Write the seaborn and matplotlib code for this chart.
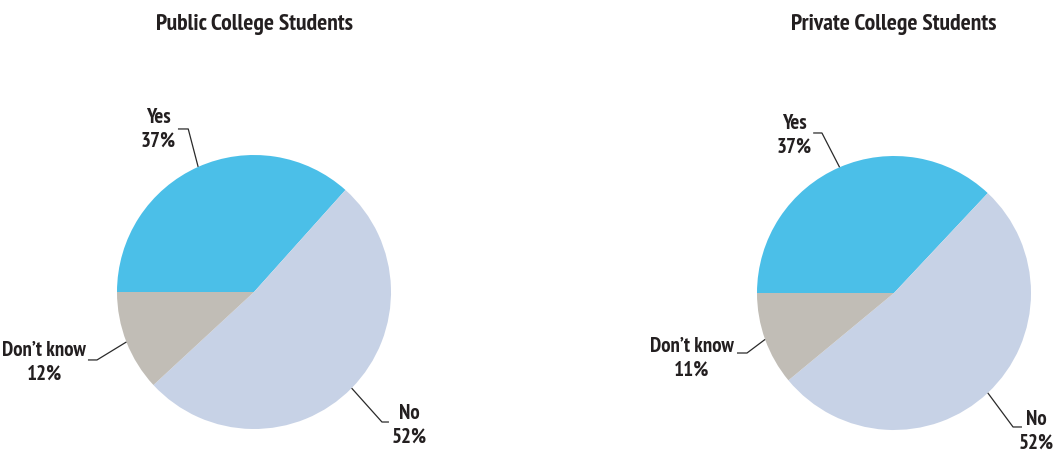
import numpy as np
import matplotlib
matplotlib.use("Agg")
import matplotlib.pyplot as plt
from matplotlib import font_manager
import seaborn as sns

# Survey responses by type of college
categories = ["Yes", "No", "Don\u2019t know"]
public_values = [37, 52, 12]
private_values = [37, 52, 11]
titles = ["Public College Students", "Private College Students"]
colors = ["#4BBFE8", "#C7D2E6", "#C1BDB6"]

sns.set_theme(style="white")
plt.rcParams["font.family"] = ["DejaVu Sans"]


def condensed_bold_fonts():
    """Installed condensed/narrow bold faces, narrowest families first."""
    found = []
    for f in font_manager.fontManager.ttflist:
        name = f.name.lower()
        fn = f.fname.lower()
        narrow = ("narrow" in name or "condensed" in name or "condensed" in fn
                  or "narrow" in fn or f.stretch in ("condensed", "semi-condensed",
                                                     "extra-condensed", "ultra-condensed"))
        bold = f.weight in ("bold", 700, "semibold", 600) or "bold" in fn
        if narrow and bold and "oblique" not in fn and "italic" not in fn:
            rank = 0 if "narrow" in fn or "narrow" in name else 1
            found.append((rank, f.fname))
    return [p for _, p in sorted(found)]


cands = condensed_bold_fonts()
if cands:
    FONT = font_manager.FontProperties(fname=cands[0])
    is_narrow = "narrow" in cands[0].lower()
else:
    FONT = font_manager.FontProperties(family="DejaVu Sans", weight="bold")
    is_narrow = False

if is_narrow:
    label_size, title_size = 15, 17
elif cands:
    label_size, title_size = 13, 15
else:
    label_size, title_size = 11.5, 13

W, H = 1056, 451
fig = plt.figure(figsize=(W / 100, H / 100), dpi=100)
fig.patch.set_facecolor("white")

# pie centres and radius in pixels
centers = [(254, 292), (894, 293)]
radius = 137

# label layout per pie, in pie-radius units:
# (text anchor x, text y, horizontal alignment, elbow x, elbow y, stub end x)
label_layout = [
    {
        "Yes": (-0.569, 1.19, "right", -0.48, 1.19, -0.555),
        "No": (1.007, -0.971, "left", 0.934, -0.949, 0.985),
        "Don\u2019t know": (-1.226, -0.511, "right", -1.146, -0.496, -1.212),
    },
    {
        "Yes": (-0.599, 1.153, "right", -0.526, 1.168, -0.59),
        "No": (1.168, -1.007, "right", 0.869, -0.978, 0.934),
        "Don\u2019t know": (-1.168, -0.474, "right", -1.073, -0.438, -1.146),
    },
]

for (cx, cy), values, title, layout in zip(centers, [public_values, private_values], titles, label_layout):
    ax = fig.add_axes([(cx - radius) / W, (H - cy - radius) / H, 2 * radius / W, 2 * radius / H])
    wedges, _ = ax.pie(values, colors=colors, startangle=180, counterclock=False,
                       radius=1, wedgeprops=dict(linewidth=0))
    ax.set_xlim(-1, 1)
    ax.set_ylim(-1, 1)
    ax.set_aspect("equal")
    ax.axis("off")

    for w, cat, val in zip(wedges, categories, values):
        theta = np.deg2rad((w.theta1 + w.theta2) / 2)
        ex, ey = np.cos(theta), np.sin(theta)
        tx, ty, ha, bx, by, sx = layout[cat]
        ax.plot([ex, bx, sx], [ey, by, by], color="#2A2A2A", lw=0.9,
                clip_on=False, solid_capstyle="butt")
        ax.text(tx, ty, f"{cat}\n{val}%", ha=ha, va="center",
                multialignment="center", fontproperties=FONT, fontsize=label_size,
                color="#231F20", linespacing=1.3, clip_on=False)

    fig.text(cx / W, 1 - 30 / H, title, ha="center", va="baseline",
             fontproperties=FONT, fontsize=title_size, color="#231F20")

fig.savefig("out.png", dpi=100, facecolor="white")
